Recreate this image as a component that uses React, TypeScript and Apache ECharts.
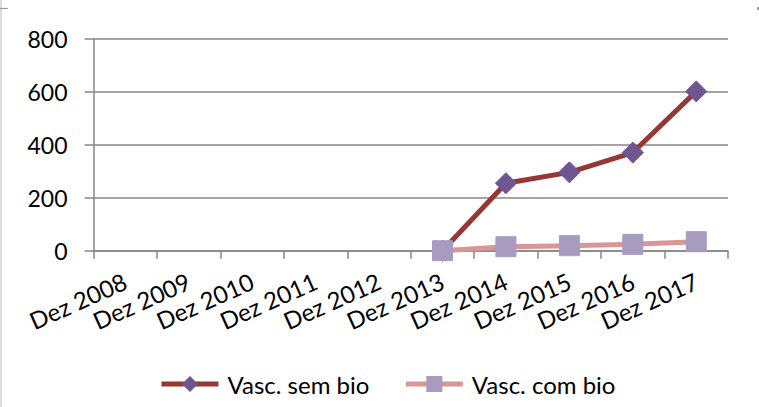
import React, { useEffect, useRef } from "react";
import * as echarts from "echarts";

const categories = [
  "Dez 2008", "Dez 2009", "Dez 2010", "Dez 2011", "Dez 2012",
  "Dez 2013", "Dez 2014", "Dez 2015", "Dez 2016", "Dez 2017",
];
const semBio = [null, null, null, null, null, 0, 255, 296, 371, 602];
const comBio = [null, null, null, null, null, 0, 15, 19, 24, 34];
const seriesNames = ["Vasc. sem bio", "Vasc. com bio"];
const yMin = 0;
const yMax = 800;
const yInterval = 200;

const FONT = "Lato, 'Open Sans', sans-serif";
const AXIS_GRAY = "#878787";

export default function App() {
  const ref = useRef<HTMLDivElement>(null);
  useEffect(() => {
    if (!ref.current) return;
    const chart = echarts.init(ref.current, undefined, { renderer: "svg" });
    chart.setOption({
      animation: false,
      backgroundColor: "#ffffff",
      textStyle: { fontFamily: FONT },
      grid: { left: 93.5, right: 31, top: 39, bottom: 156.3, containLabel: false },
      graphic: [
        { type: "line", shape: { x1: 1, y1: 0, x2: 1, y2: 407 }, style: { stroke: "#c6c6c6", lineWidth: 1.2 } },
        { type: "line", shape: { x1: 0, y1: 8.5, x2: 8, y2: 8.5 }, style: { stroke: "#9a9a9a", lineWidth: 1.2 } },
        { type: "rect", shape: { x: 757, y: 7, width: 2, height: 3 }, style: { fill: "#9a9a9a" } },
      ],
      legend: {
        left: 159,
        top: 372,
        padding: 0,
        itemWidth: 57,
        itemHeight: 20,
        itemGap: 34,
        lineStyle: { width: 5 },
        textStyle: { fontFamily: FONT, fontSize: 24, color: "#000", padding: [0, 0, 0, 4] },
        data: seriesNames,
      },
      xAxis: {
        type: "category",
        data: categories,
        boundaryGap: true,
        axisLine: { lineStyle: { color: AXIS_GRAY, width: 1.5 } },
        axisTick: { show: true, length: 8, lineStyle: { color: AXIS_GRAY, width: 1.5 } },
        axisLabel: {
          rotate: 24,
          interval: 0,
          margin: 29,
          fontFamily: FONT,
          fontSize: 24,
          color: "#000",
        },
      },
      yAxis: {
        type: "value",
        min: yMin,
        max: yMax,
        interval: yInterval,
        axisLine: { show: true, lineStyle: { color: AXIS_GRAY, width: 1.5 } },
        axisTick: { show: true, length: 9, lineStyle: { color: AXIS_GRAY, width: 1.5 } },
        splitLine: { show: true, lineStyle: { color: AXIS_GRAY, width: 1.5 } },
        axisLabel: { margin: 26, fontFamily: FONT, fontSize: 23, color: "#000" },
      },
      series: [
        {
          name: seriesNames[0],
          type: "line",
          data: semBio,
          symbol: "diamond",
          symbolSize: 21,
          lineStyle: { color: "#953735", width: 5 },
          itemStyle: { color: "#6f5592", borderColor: "#6f5592" },
          z: 3,
        },
        {
          name: seriesNames[1],
          type: "line",
          data: comBio,
          symbol: "rect",
          symbolSize: 20,
          lineStyle: { color: "#da9694", width: 5 },
          itemStyle: { color: "#a89bc0", borderColor: "#a89bc0" },
          z: 4,
        },
      ],
    });
    return () => chart.dispose();
  }, []);
  return (
    <div
      ref={ref}
      style={{ position: "fixed", left: 0, top: 0, width: 759, height: 407 }}
    />
  );
}
